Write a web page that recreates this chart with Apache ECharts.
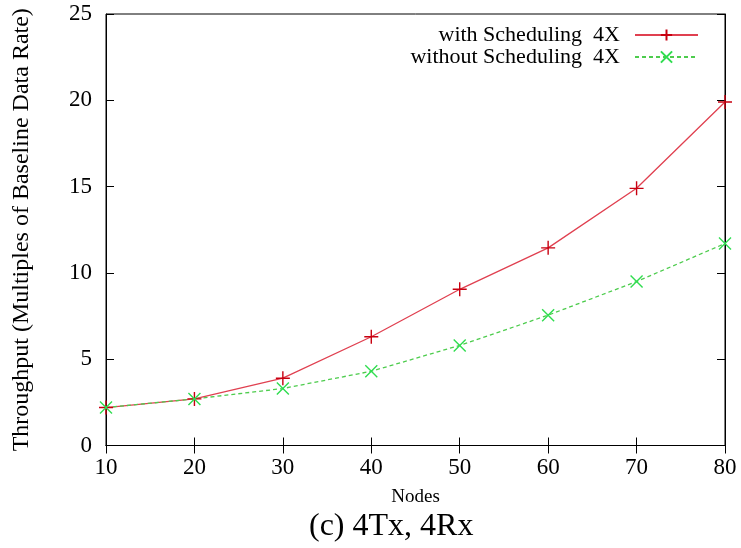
<!DOCTYPE html>
<html><head><meta charset="utf-8">
<script src="https://cdn.jsdelivr.net/npm/echarts@6/dist/echarts.min.js"></script>
<style>html,body{margin:0;padding:0;background:#fff}#c{width:741px;height:548px}</style>
</head><body><div id="c"></div>
<script>
const nodes = [10, 20, 30, 40, 50, 60, 70, 80];
const withSched = [2.2, 2.7, 3.9, 6.3, 9.05, 11.45, 14.9, 19.9];
const withoutSched = [2.2, 2.7, 3.3, 4.3, 5.8, 7.55, 9.5, 11.7];
const seriesNames = ['with Scheduling  4X', 'without Scheduling  4X'];
const yTitle = 'Throughput (Multiples of Baseline Data Rate)';
const xTitle = 'Nodes';
const caption = '(c) 4Tx, 4Rx';

const font = 'Liberation Serif';
const plus = 'path://M0,5L10,5M5,0L5,10';
const cross = 'path://M0,0L10,10M10,0L0,10';
const chart = echarts.init(document.getElementById('c'), null, {renderer: 'canvas'});
chart.setOption({
  backgroundColor: '#fff',
  animation: false,
  grid: {left: 106, right: 16, top: 14, bottom: 102.5, show: true, borderColor: '#000', borderWidth: 1},
  title: {text: caption, left: 304, top: 506, textStyle: {fontFamily: font, fontSize: 32, fontWeight: 'normal', color: '#000'}},
  legend: {
    right: 37, top: 19, orient: 'vertical', align: 'right', itemWidth: 63, itemHeight: 14, itemGap: 0,
    textStyle: {fontFamily: font, fontSize: 22, lineHeight: 22, color: '#000', padding: [0, 10, 0, 0]},
    data: seriesNames
  },
  xAxis: [{
    type: 'value', min: 10, max: 80, interval: 10, position: 'bottom',
    name: xTitle, nameLocation: 'middle', nameGap: 42,
    nameTextStyle: {fontFamily: font, fontSize: 19, color: '#000'},
    axisLine: {show: true, lineStyle: {color: '#000'}},
    axisTick: {inside: true, length: 8, lineStyle: {color: '#000'}},
    axisLabel: {fontFamily: font, fontSize: 23, color: '#000', margin: 11},
    splitLine: {show: false}
  }, {
    type: 'value', min: 10, max: 80, interval: 10, position: 'top',
    axisLine: {show: true, lineStyle: {color: '#000'}},
    axisTick: {inside: true, length: 8, lineStyle: {color: '#000'}},
    axisLabel: {show: false}, splitLine: {show: false}
  }],
  yAxis: [{
    type: 'value', min: 0, max: 25, interval: 5, position: 'left',
    name: yTitle, nameLocation: 'middle', nameGap: 72, nameRotate: 90,
    nameTextStyle: {fontFamily: font, fontSize: 24, color: '#000'},
    axisLine: {show: true, lineStyle: {color: '#000'}},
    axisTick: {inside: true, length: 8, lineStyle: {color: '#000'}},
    axisLabel: {fontFamily: font, fontSize: 23, color: '#000', margin: 14},
    splitLine: {show: false}
  }, {
    type: 'value', min: 0, max: 25, interval: 5, position: 'right',
    axisLine: {show: true, lineStyle: {color: '#000'}},
    axisTick: {inside: true, length: 8, lineStyle: {color: '#000'}},
    axisLabel: {show: false}, splitLine: {show: false}
  }],
  series: [{
    name: seriesNames[0], type: 'line',
    data: nodes.map((x, i) => [x, withSched[i]]),
    symbol: plus, symbolSize: 14,
    lineStyle: {color: '#e04050', width: 1.3},
    itemStyle: {color: '#c80010', borderColor: '#c80010', borderWidth: 1.4}
  }, {
    name: seriesNames[1], type: 'line',
    data: nodes.map((x, i) => [x, withoutSched[i]]),
    symbol: cross, symbolSize: 12,
    lineStyle: {color: '#4dcc4d', width: 1.3, type: [4, 3]},
    itemStyle: {color: '#30dd50', borderColor: '#30dd50', borderWidth: 1.4}
  }]
});
</script></body></html>
